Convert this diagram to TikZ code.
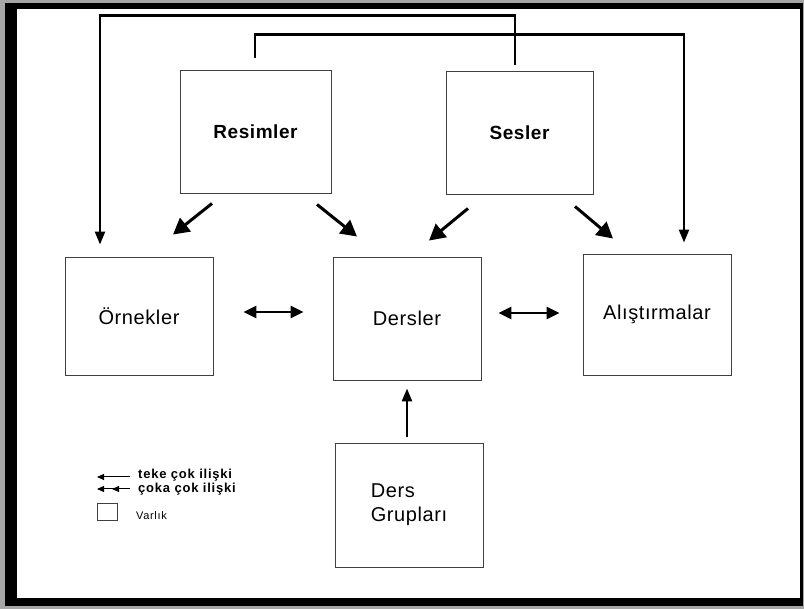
\documentclass[tikz,border=0pt]{standalone}
\usepackage{fontspec}
\setmainfont{Liberation Sans}
\newfontfamily\boxfont[LetterSpace=3]{Liberation Sans}
\newfontfamily\legfont[LetterSpace=6]{Liberation Sans}
\usetikzlibrary{arrows.meta,calc}
\begin{document}
\begin{tikzpicture}[x=1pt,y=-1pt,
  ent/.style={draw=black!75, line width=0.9pt, inner sep=0pt, fill=white},
  bigtext/.style={font=\boxfont\fontsize{20}{24}\selectfont},
  boldtext/.style={font=\boxfont\bfseries\fontsize{19}{23}\selectfont},
  legtext/.style={font=\legfont\bfseries\fontsize{13}{14}\selectfont, anchor=west, inner sep=0pt},
  arr/.style={line width=3pt, -{Triangle[length=16pt,width=17pt]}},
  dbl/.style={line width=2.5pt, {Triangle[length=13pt,width=12pt]}-{Triangle[length=13pt,width=12pt]}},
  lnk/.style={line width=2.3pt, -{Triangle[length=13pt,width=10pt]}},
  upa/.style={line width=2.5pt, -{Triangle[length=13pt,width=10pt]}}]
\useasboundingbox (0,0) rectangle (804,609);
% frame
\fill[black!35] (0,0) rectangle (804,609);
\fill[black] (5,3) rectangle (803,606);
\fill[white] (17,9) rectangle (800,598);
% entities
\node[ent, boldtext, minimum width=151pt, minimum height=123pt] (res) at (255.5,131.5) {Resimler};
\node[ent, boldtext, minimum width=147pt, minimum height=123pt] (ses) at (519.5,132.5) {Sesler};
\node[ent, bigtext, minimum width=148pt, minimum height=118pt] (orn) at (139,316) {Örnekler};
\node[ent, bigtext, minimum width=148pt, minimum height=123pt] (der) at (407,318.5) {Dersler};
\node[ent, bigtext, minimum width=148pt, minimum height=121pt] (ali) at (657,314.5) {Alıştırmalar};
\node[ent, bigtext, minimum width=148pt, minimum height=124pt, align=left] (dg) at (409,505) {Ders\\Grupları};
% diagonal arrows
\draw[arr] ($(res.south)+(-43.5,10)$) -- ($(orn.north)+(34,-22)$);
\draw[arr] ($(res.south)+(61.5,11)$) -- ($(der.north)+(-50,-20)$);
\draw[arr] ($(ses.south)+(-51.5,14)$) -- ($(der.north)+(22,-16)$);
\draw[arr] ($(ses.south)+(55.5,12)$) -- ($(ali.north)+(-44,-15)$);
% horizontal double arrows
\draw[dbl] ($(orn.east)+(30,-4)$) -- ($(der.west)+(-29,-6.5)$);
\draw[dbl] ($(der.east)+(17,-5.5)$) -- ($(ali.west)+(-23,-1.5)$);
% up arrow
\draw[upa] ($(dg.north)+(-2,-6)$) -- ($(der.south)+(0,8)$);
% top connectors
\coordinate (sA) at ($(ses.north)+(-4.5,-6)$);
\coordinate (eA) at ($(orn.north)+(-39,-12)$);
\draw[lnk] (sA) |- ($(eA)+(0,-229)$) -- (eA);
\coordinate (sB) at ($(res.north)+(-0.5,-12)$);
\coordinate (eB) at ($(ali.north)+(27,-11)$);
\draw[lnk] (sB) |- ($(eB)+(0,-208)$) -- (eB);
% legend
\node[legtext] (l1) at (138,475) {teke çok ilişki};
\node[legtext] (l2) at (138,489) {çoka çok ilişki};
\node[legtext, font=\legfont\fontsize{11}{13}\selectfont] (l3) at (136,516) {Varlık};
\node[ent, minimum width=20pt, minimum height=17pt] (lb) at (107,511.5) {};
\coordinate (t1a) at ($(l1.west)+(-8,2)$);
\coordinate (t1b) at ($(l1.west)+(-41,2)$);
\draw[line width=1pt, -{Triangle[length=7pt,width=6pt]}] (t1a) -- (t1b);
\coordinate (t2a) at ($(l2.west)+(-8,0)$);
\coordinate (t2b) at ($(l2.west)+(-41,0)$);
\draw[line width=1pt, -{Triangle[length=7pt,width=6pt,sep=8pt]Triangle[length=7pt,width=6pt]}] (t2a) -- (t2b);
\end{tikzpicture}
\end{document}
